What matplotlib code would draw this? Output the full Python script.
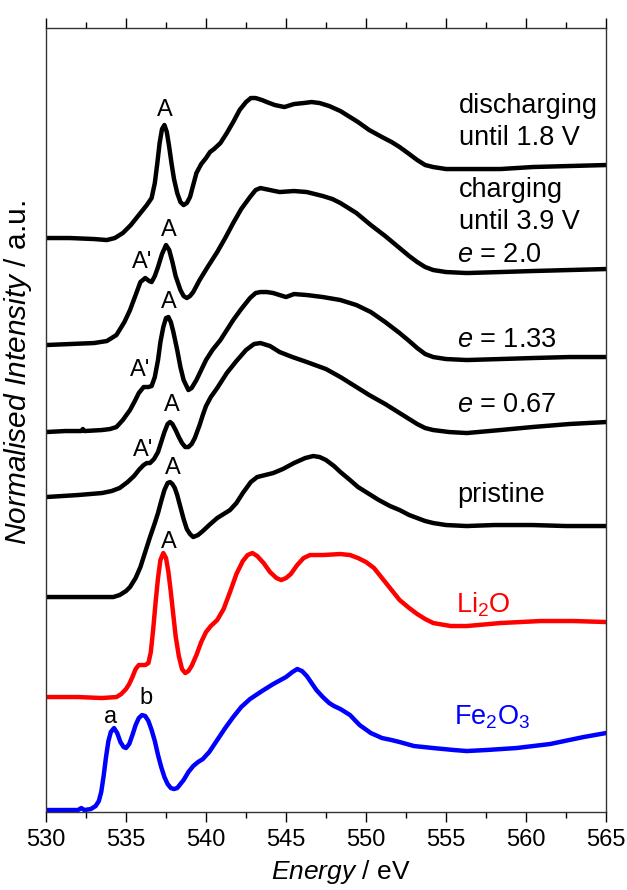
import matplotlib
matplotlib.use("Agg")
import matplotlib.pyplot as plt
from matplotlib.ticker import MultipleLocator

plt.rcParams['font.family'] = ['Liberation Sans', 'DejaVu Sans']
plt.rcParams['mathtext.fontset'] = 'custom'
plt.rcParams['mathtext.rm'] = 'Liberation Sans'
plt.rcParams['mathtext.it'] = 'Liberation Sans:italic'

# O K-edge spectra, stacked (normalised intensity + offset, a.u.)
fe2o3_e = [530, 531.5, 532.0, 532.2, 532.4, 532.8, 533.1, 533.3, 533.45, 533.6, 533.75, 533.9, 534.05,
           534.25, 534.45, 534.65, 534.85, 535.0, 535.2, 535.4, 535.6, 535.8, 536.0, 536.2, 536.4,
           536.6, 536.8, 537.0, 537.2, 537.4, 537.6, 537.8, 538.0, 538.2, 538.4, 538.6, 538.9, 539.2,
           539.5, 539.8, 540.2, 540.7, 541.2, 541.7, 542.2, 542.75, 543.5, 544.2, 545.0, 545.4, 545.7,
           546.0, 546.3, 546.6, 546.9, 547.3, 547.7, 548.0, 548.4, 549.0, 549.6, 550.3, 551.0, 551.6,
           552.1, 553.0, 554.2, 555.5, 556.3, 557.5, 559.4, 561.5, 563.6, 565]
fe2o3_i = [0.02, 0.02, 0.02, 0.04, 0.02, 0.03, 0.06, 0.11, 0.20, 0.36, 0.55, 0.71, 0.80,
           0.84, 0.79, 0.70, 0.65, 0.64, 0.68, 0.77, 0.87, 0.94, 0.97, 0.96, 0.91,
           0.82, 0.71, 0.57, 0.45, 0.35, 0.28, 0.24, 0.23, 0.24, 0.28, 0.32, 0.40, 0.46,
           0.50, 0.53, 0.60, 0.72, 0.84, 0.95, 1.05, 1.13, 1.21, 1.28, 1.35, 1.40, 1.43,
           1.41, 1.36, 1.29, 1.22, 1.15, 1.09, 1.06, 1.03, 0.97, 0.87, 0.79, 0.74, 0.72,
           0.70, 0.66, 0.64, 0.62, 0.61, 0.62, 0.64, 0.68, 0.75, 0.79]

li2o_e = [530, 532, 533.5, 534.4, 534.7, 535.0, 535.2, 535.4, 535.6, 535.8, 536.0, 536.2, 536.4,
          536.55, 536.7, 536.85, 537.0, 537.15, 537.33, 537.5, 537.65, 537.8, 537.95, 538.1, 538.3,
          538.5, 538.7, 538.9, 539.1, 539.4, 539.7, 540.0, 540.3, 540.7, 541.1, 541.5, 541.9, 542.3,
          542.6, 542.9, 543.2, 543.6, 544.0, 544.4, 544.7, 545.0, 545.3, 545.7, 546.1, 546.5, 547.3,
          548.4, 549.0, 549.5, 550.0, 550.5, 551.0, 551.5, 552.1, 552.7, 553.2, 553.7, 554.2, 555.3,
          556.3, 558.4, 560.9, 563, 565]
li2o_i = [1.15, 1.15, 1.14, 1.15, 1.18, 1.23, 1.28, 1.35, 1.43, 1.47, 1.47, 1.47, 1.49,
          1.60, 1.83, 2.10, 2.34, 2.52, 2.59, 2.54, 2.40, 2.20, 1.98, 1.76, 1.56,
          1.43, 1.39, 1.41, 1.46, 1.57, 1.70, 1.80, 1.86, 1.92, 2.03, 2.20, 2.38, 2.51,
          2.57, 2.59, 2.56, 2.49, 2.40, 2.34, 2.32, 2.34, 2.38, 2.47, 2.54, 2.57, 2.57,
          2.58, 2.57, 2.54, 2.50, 2.44, 2.34, 2.24, 2.12, 2.04, 1.98, 1.93, 1.89, 1.86,
          1.86, 1.89, 1.91, 1.91, 1.90]

pristine_e = [530, 532, 533.5, 534.2, 534.6, 535.0, 535.25, 535.6, 535.9, 536.2, 536.5, 536.8, 537.0,
              537.2, 537.4, 537.6, 537.75, 537.9, 538.05, 538.2, 538.4, 538.6, 538.8, 539.0, 539.2,
              539.5, 539.8, 540.2, 540.7, 541.1, 541.5, 541.9, 542.3, 542.8, 543.2, 543.7, 544.2,
              544.8, 545.5, 546.2, 546.7, 547.1, 547.5, 548.0, 548.4, 549.0, 549.5, 550.2, 550.8,
              551.5, 552.1, 552.7, 553.2, 553.7, 554.2, 555.0, 556.3, 558, 560.4, 562.5, 565]
pristine_i = [2.15, 2.15, 2.15, 2.15, 2.17, 2.21, 2.25, 2.34, 2.45, 2.60, 2.75, 2.89, 2.99,
              3.11, 3.22, 3.29, 3.30, 3.28, 3.24, 3.17, 3.05, 2.93, 2.83, 2.78, 2.75,
              2.77, 2.81, 2.87, 2.94, 2.98, 3.02, 3.09, 3.19, 3.30, 3.35, 3.37, 3.39,
              3.43, 3.49, 3.54, 3.56, 3.55, 3.52, 3.46, 3.40, 3.32, 3.25, 3.18, 3.12,
              3.06, 3.02, 2.97, 2.94, 2.91, 2.89, 2.87, 2.86, 2.87, 2.87, 2.86, 2.86]

e067_e = [530, 531, 532, 533.5, 534.1, 534.6, 535.1, 535.5, 535.8, 536.1, 536.3, 536.5, 536.75,
          537.0, 537.2, 537.4, 537.6, 537.75, 537.9, 538.1, 538.3, 538.5, 538.7, 538.9, 539.1,
          539.3, 539.6, 539.8, 540.0, 540.3, 540.7, 541.3, 541.9, 542.5, 543.0, 543.4, 544.0,
          544.6, 545.4, 546.3, 547.5, 548.4, 549.3, 550.2, 551.2, 552.1, 552.7, 553.2, 553.7,
          554.2, 555.2, 556.3, 558.4, 560.4, 562.7, 565]
e067_i = [3.15, 3.16, 3.17, 3.19, 3.21, 3.24, 3.30, 3.36, 3.42, 3.47, 3.49, 3.49, 3.53,
          3.60, 3.70, 3.80, 3.88, 3.90, 3.88, 3.82, 3.75, 3.69, 3.65, 3.65, 3.68,
          3.74, 3.87, 3.97, 4.06, 4.15, 4.24, 4.39, 4.51, 4.62, 4.68, 4.69, 4.66,
          4.60, 4.55, 4.50, 4.43, 4.35, 4.26, 4.17, 4.08, 3.99, 3.93, 3.88, 3.84,
          3.82, 3.80, 3.79, 3.82, 3.85, 3.88, 3.90]

e133_e = [530, 531.2, 532.2, 532.3, 532.4, 533.5, 534.0, 534.4, 534.8, 535.25, 535.55, 535.8, 536.1,
          536.4, 536.6, 536.8, 537.0, 537.15, 537.33, 537.5, 537.65, 537.8, 537.96, 538.2, 538.4,
          538.6, 538.9, 539.1, 539.4, 539.7, 540.0, 540.4, 540.9, 541.3, 541.7, 542.2, 542.75,
          543.1, 543.4, 543.8, 544.2, 544.6, 545.0, 545.5, 546.3, 547.3, 548.4, 549.4, 550.3,
          551.2, 552.1, 552.7, 553.2, 553.7, 554.2, 555.0, 556.3, 558.4, 560.4, 562.7, 565]
e133_i = [3.80, 3.81, 3.81, 3.83, 3.81, 3.82, 3.83, 3.85, 3.92, 4.02, 4.11, 4.19, 4.25,
          4.25, 4.26, 4.35, 4.52, 4.70, 4.85, 4.94, 4.95, 4.90, 4.80, 4.62, 4.45,
          4.32, 4.22, 4.24, 4.32, 4.42, 4.52, 4.62, 4.72, 4.82, 4.92, 5.03, 5.14,
          5.19, 5.20, 5.20, 5.19, 5.17, 5.15, 5.18, 5.17, 5.15, 5.12, 5.07, 5.00,
          4.90, 4.79, 4.71, 4.64, 4.58, 4.55, 4.53, 4.52, 4.53, 4.54, 4.55, 4.55]

e20_e = [530, 531.5, 533, 533.8, 534.4, 534.9, 535.25, 535.6, 535.9, 536.2, 536.45, 536.6, 536.8,
         537.0, 537.25, 537.5, 537.7, 537.9, 538.1, 538.4, 538.6, 538.8, 539.0, 539.2, 539.6,
         540.1, 540.7, 541.2, 541.7, 542.2, 542.75, 543.1, 543.4, 544.0, 544.6, 545.5, 546.3,
         547.3, 547.9, 548.4, 549.4, 550.3, 551.2, 552.1, 552.7, 553.2, 553.7, 554.2, 555.0,
         556.3, 558.4, 560.4, 562.7, 565]
e20_i = [4.67, 4.68, 4.69, 4.71, 4.77, 4.90, 5.02, 5.17, 5.30, 5.34, 5.31, 5.30, 5.36,
         5.45, 5.58, 5.67, 5.62, 5.50, 5.36, 5.22, 5.16, 5.14, 5.16, 5.20, 5.32,
         5.45, 5.60, 5.74, 5.89, 6.03, 6.15, 6.22, 6.24, 6.22, 6.20, 6.21, 6.20,
         6.16, 6.13, 6.09, 5.99, 5.87, 5.76, 5.64, 5.56, 5.50, 5.45, 5.42, 5.40,
         5.39, 5.40, 5.41, 5.42, 5.43]

dis_e = [530, 531.5, 533, 533.8, 534.3, 534.8, 535.3, 535.9, 536.3, 536.6, 536.8, 536.95, 537.1,
         537.25, 537.4, 537.55, 537.7, 537.85, 538.0, 538.2, 538.4, 538.6, 538.8, 539.0, 539.2,
         539.4, 539.7, 540.0, 540.25, 540.5, 540.9, 541.3, 541.7, 542.1, 542.5, 542.8, 543.1,
         543.5, 543.8, 544.3, 544.9, 545.5, 546.1, 546.6, 547.1, 547.7, 548.4, 549.0, 549.5,
         550.2, 551.0, 551.6, 552.1, 552.7, 553.2, 553.7, 554.2, 555.0, 556.3, 558.4, 560.4,
         562.7, 565]
dis_i = [5.74, 5.74, 5.73, 5.72, 5.74, 5.79, 5.87, 5.99, 6.07, 6.14, 6.29, 6.48, 6.69,
         6.83, 6.87, 6.80, 6.65, 6.48, 6.33, 6.19, 6.10, 6.07, 6.09, 6.15, 6.27,
         6.39, 6.48, 6.54, 6.60, 6.63, 6.69, 6.79, 6.90, 7.02, 7.10, 7.14, 7.14,
         7.12, 7.10, 7.07, 7.05, 7.08, 7.09, 7.10, 7.09, 7.06, 7.01, 6.95, 6.90,
         6.82, 6.75, 6.70, 6.65, 6.58, 6.52, 6.47, 6.45, 6.43, 6.43, 6.43, 6.45,
         6.46, 6.47]

# peak labels (energy, intensity, text)
peak_labels = [(537.4, 7.02, "A"), (537.7, 5.82, "A"), (536.0, 5.50, "A'"),
               (537.65, 5.10, "A"), (535.9, 4.42, "A'"), (537.85, 4.07, "A"),
               (536.1, 3.62, "A'"), (537.95, 3.44, "A"), (537.65, 2.70, "A"),
               (534.05, 0.95, "a"), (536.25, 1.14, "b")]

fig = plt.figure(figsize=(6.27, 8.90), dpi=100)
ax = fig.add_axes([0.0734, 0.0876, 0.8931, 0.8809])

lw = 3.2
ax.plot(fe2o3_e, fe2o3_i, color='#0000ff', lw=lw, solid_joinstyle='round')
ax.plot(li2o_e, li2o_i, color='#ff0000', lw=lw, solid_joinstyle='round')
for xs, ys in [(pristine_e, pristine_i), (e067_e, e067_i), (e133_e, e133_i),
               (e20_e, e20_i), (dis_e, dis_i)]:
    ax.plot(xs, ys, color='black', lw=lw, solid_joinstyle='round')

for x, y, t in peak_labels:
    ax.text(x, y, t, ha='center', va='center', fontsize=17)

ax.text(555.8, 7.06, "discharging", fontsize=19.5, va='center')
ax.text(555.8, 6.74, "until 1.8 V", fontsize=19.5, va='center')
ax.text(555.8, 6.22, "charging", fontsize=19.5, va='center')
ax.text(555.8, 5.90, "until 3.9 V", fontsize=19.5, va='center')
ax.text(555.7, 5.57, "$e$ = 2.0", fontsize=19.5, va='center')
ax.text(555.7, 4.72, "$e$ = 1.33", fontsize=19.5, va='center')
ax.text(555.7, 4.07, "$e$ = 0.67", fontsize=19.5, va='center')
ax.text(555.7, 3.17, "pristine", fontsize=19.5, va='center')
ax.text(555.6, 2.07, "Li$_2$O", fontsize=19.5, va='center', color='#ff0000')
ax.text(555.5, 0.95, "Fe$_2$O$_3$", fontsize=19.5, va='center', color='#0000ff')

ax.set_xlim(530, 565)
ax.set_ylim(0, 7.84)
ax.set_yticks([])
ax.xaxis.set_major_locator(MultipleLocator(5))
ax.xaxis.set_minor_locator(MultipleLocator(2.5))
ax.tick_params(axis='x', which='both', direction='out', top=True, bottom=True,
               labelsize=17, width=1, pad=5)
ax.tick_params(axis='x', which='major', length=7)
ax.tick_params(axis='x', which='minor', length=4)
for s in ax.spines.values():
    s.set_linewidth(1)
    s.set_color('#333333')

ax.set_xlabel(r"$\mathit{Energy}$ / eV", fontsize=19)
ax.xaxis.set_label_coords(0.527, -0.059)
ax.set_ylabel(r"$\mathit{Normalised\ Intensity}$ / a.u.", fontsize=21.5)
ax.yaxis.set_label_coords(-0.022, 0.56)

fig.savefig("out.png", dpi=100)
